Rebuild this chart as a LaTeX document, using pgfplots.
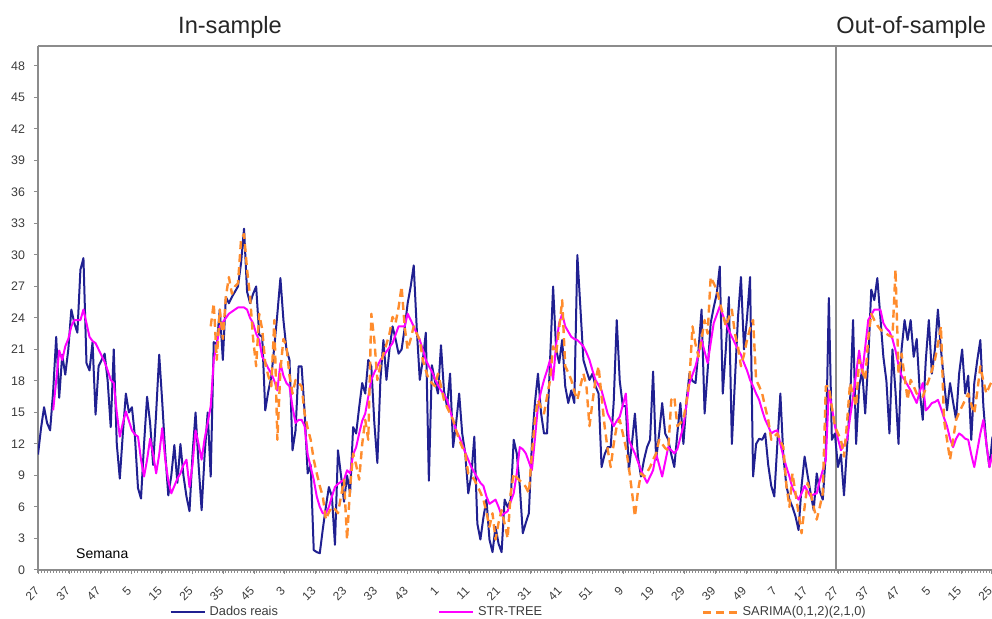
\documentclass[border=0pt]{standalone}
\usepackage{pgfplots}
\pgfplotsset{compat=1.18}
\usepackage{fontspec}
\setmainfont{Liberation Sans}
\definecolor{realblue}{RGB}{32,32,145}
\definecolor{strmag}{RGB}{255,0,255}
\definecolor{sarorange}{RGB}{255,140,45}
\definecolor{axgray}{RGB}{140,140,140}
\definecolor{txtgray}{RGB}{60,60,60}
\begin{document}
\begin{tikzpicture}
\useasboundingbox (-19pt,-24.5pt) rectangle (477pt,285pt);
\begin{axis}[
  at={(0,0)}, anchor=south west,
  scale only axis, width=477pt, height=262pt,
  xmin=0, xmax=314.85, ymin=0, ymax=49.9,
  axis x line*=bottom, axis y line*=left,
  axis line style={axgray, line width=0.9pt},
  /pgf/number format/assume math mode=true,
  ytick={0,3,...,48},
  yticklabel style={font=\fontsize{6.2}{7}\selectfont, text=txtgray, xshift=-1pt},
  xtick={0.33,10.48,20.62,30.77,40.91,51.06,61.2,71.35,81.49,91.64,101.78,111.93,122.07,132.22,142.36,152.51,162.65,172.8,182.94,193.09,203.23,213.38,223.52,233.67,243.81,253.96,264.1,274.25,284.39,294.54,304.68,314.83},
  xticklabels={27,37,47,5,15,25,35,45,3,13,23,33,43,1,11,21,31,41,51,9,19,29,39,49,7,17,27,37,47,5,15,25},
  xticklabel style={font=\fontsize{6}{7}\selectfont, text=txtgray, rotate=45, anchor=north east, xshift=-2.5pt, yshift=1pt},
  minor xtick={0,1,...,315},
  tick style={axgray, line width=0.5pt},
  major tick length=2pt, minor tick length=1.5pt,
  xtick pos=bottom, ytick pos=left,
  tick align=outside,
  clip=true,
  legend columns=3,
  legend style={draw=none, fill=none, font=\fontsize{6.4}{7}\selectfont, text=txtgray,
    at={(0.1375,-0.081)}, anchor=west, inner sep=0pt,
    /tikz/every even column/.append style={column sep=78pt}},
  legend cell align=left,
]
\draw[axgray, line width=0.9pt] (axis cs:0,49.9) -- (axis cs:314.85,49.9);
\draw[axgray, line width=0.8pt] (axis cs:263.4,0) -- (axis cs:263.4,49.9);
\addplot[realblue, line width=1pt, line join=round] coordinates {
(0,11) (1,13.5) (2,15.5) (3,14) (4,13.3) (5,17) (6,22.2) (7,16.4) (8,20.5) (9,18.6)
(10,21) (11,24.8) (12,23.5) (13,22.6) (14,28.6) (15,29.7) (16,19.7) (17,19) (18,21.7) (19,14.8)
(20,19.4) (21,20) (22,20.6) (23,18) (24,13.6) (25,21) (26,12) (27,8.7) (28,13) (29,16.8)
(30,15) (31,15.5) (32,12.7) (33,7.8) (34,6.8) (35,12) (36,16.5) (37,14) (38,10) (39,15)
(40,20.5) (41,16) (42,11.1) (43,7.1) (44,9) (45,11.9) (46,8.3) (47,12) (48,9) (49,7)
(50,5.6) (51,11) (52,15) (53,10) (54,5.7) (55,11) (56,15) (57,8.9) (58,21.7) (59,21.5)
(60,24.8) (61,20) (62,26) (63,25.4) (64,26) (65,26.5) (66,27) (67,29.2) (68,32.5) (69,26.5)
(70,25.4) (71,26.3) (72,27) (73,22.4) (74,22.2) (75,15.2) (76,17) (77,18.4) (78,21.3) (79,24.4)
(80,27.8) (81,23.8) (82,21) (83,20) (84,11.4) (85,13.3) (86,19.4) (87,19.4) (88,15) (89,9.2)
(90,10) (91,1.9) (92,1.7) (93,1.6) (94,3.9) (95,6) (96,7.9) (97,7) (98,2.4) (99,11.4)
(100,9) (101,6.5) (102,9) (103,7.3) (104,13.6) (105,13) (106,15.5) (107,17.8) (108,16.8) (109,20)
(110,19.4) (111,14) (112,10.2) (113,18.1) (114,21.9) (115,18.1) (116,21) (117,23.2) (118,22) (119,20.6)
(120,21) (121,23) (122,25.4) (123,27) (124,29) (125,23) (126,18.1) (127,20) (128,22.6) (129,8.5)
(130,19.5) (131,18) (132,16.8) (133,21.4) (134,17) (135,15.6) (136,18.7) (137,11.7) (138,14) (139,16.8)
(140,13) (141,11.1) (142,7.3) (143,9) (144,12.7) (145,4.4) (146,2.9) (147,5) (148,6.7) (149,2.9)
(150,1.7) (151,4.1) (152,2.5) (153,1.7) (154,6.7) (155,6) (156,6.7) (157,12.4) (158,11.1) (159,8)
(160,3.5) (161,4.5) (162,5.4) (163,12) (164,15.9) (165,18.7) (166,15) (167,13) (168,13) (169,20)
(170,27) (171,21) (172,19.7) (173,21.9) (174,17.5) (175,15.9) (176,17.1) (177,15.9) (178,30) (179,25)
(180,20) (181,19) (182,18.1) (183,18.7) (184,17.5) (185,16.8) (186,9.8) (187,11) (188,11.7) (189,11.7)
(190,16) (191,23.8) (192,18) (193,15.6) (194,15.6) (195,9.5) (196,12) (197,14.9) (198,10.8) (199,8.9)
(200,10.5) (201,11.7) (202,12.4) (203,18.9) (204,10.5) (205,13) (206,15.9) (207,13) (208,12.4) (209,11)
(210,9.8) (211,13) (212,15.9) (213,12) (214,16) (215,18.7) (216,18) (217,17.8) (218,21) (219,24.8)
(220,14.9) (221,19) (222,23.5) (223,25) (224,26.3) (225,28.9) (226,16.8) (227,21) (228,26) (229,12)
(230,18) (231,24) (232,27.9) (233,21) (234,24) (235,27.9) (236,8.9) (237,12) (238,12.5) (239,12.4)
(240,13) (241,10) (242,8) (243,7) (244,12) (245,16.8) (246,10.8) (247,8) (248,6.7) (249,6)
(250,5.1) (251,3.8) (252,8) (253,10.8) (254,9) (255,7.3) (256,5.7) (257,9.2) (258,7.5) (259,6.7)
(260,11.1) (261,25.9) (262,12.4) (263,13) (264,9.8) (265,11) (266,7.1) (267,11.7) (268,16) (269,23.8)
(270,12) (271,17.5) (272,19) (273,14.9) (274,20) (275,26.7) (276,25.7) (277,27.8) (278,24.1) (279,20.3)
(280,18) (281,13) (282,21) (283,17) (284,12) (285,21) (286,23.8) (287,21.9) (288,23.8) (289,20.3)
(290,22) (291,17) (292,14.3) (293,20) (294,23.8) (295,18.7) (296,21) (297,24.8) (298,21) (299,18)
(300,15.2) (301,17.8) (302,16) (303,14.3) (304,18.7) (305,21) (306,16.8) (307,18.5) (308,12.4) (309,17.8)
(310,20) (311,21.9) (312,15.6) (313,12) (314,9.8) (315,12.7)
};
\addlegendentry{Dados reais}
\addplot[strmag, line width=1pt, line join=round] coordinates {
(5,15.2) (6,18) (7,20.9) (8,20) (9,21.3) (10,22) (11,23.2) (12,23.8) (13,23.8) (14,23.8)
(15,24.8) (16,23.5) (17,22.2) (18,21.8) (19,21.6) (20,21) (21,20.4) (22,19.8) (23,19) (24,18.1)
(25,17.8) (26,15) (27,12.7) (28,14) (29,15.1) (30,14.2) (31,13.3) (32,12.9) (33,12.7) (34,10.5)
(35,8.9) (36,10.5) (37,12.5) (38,11) (39,9.2) (40,11) (41,13.5) (42,10.5) (43,8.5) (44,7.3)
(45,8) (46,8.7) (47,9.2) (48,10) (49,10.5) (50,7.9) (51,10) (52,13.3) (53,12) (54,10.5)
(55,12.5) (56,14) (57,15.6) (58,20) (59,21.5) (60,23.2) (61,23.6) (62,24) (63,24.4) (64,24.6)
(65,24.8) (66,25) (67,25) (68,25) (69,24.8) (70,24) (71,23.5) (72,22.5) (73,21.9) (74,20.3)
(75,19.8) (76,19.2) (77,18.7) (78,18) (79,17.1) (80,19.7) (81,18.5) (82,17.8) (83,17.5) (84,15.5)
(85,14) (86,14.3) (87,14.3) (88,13.7) (89,11) (90,9.8) (91,8.6) (92,7) (93,6) (94,5.4)
(95,5.4) (96,6) (97,7) (98,7.9) (99,8.2) (100,8.4) (101,8.6) (102,9.5) (103,9.2) (104,11)
(105,11.7) (106,13) (107,14.2) (108,14.9) (109,16.5) (110,18.1) (111,18.8) (112,19.4) (113,20) (114,20.4)
(115,20.8) (116,21.2) (117,21.6) (118,22.4) (119,23.2) (120,23.2) (121,23.2) (122,24.4) (123,23.8) (124,23.2)
(125,22.5) (126,21.9) (127,21) (128,20) (129,19.4) (130,18.9) (131,18.2) (132,17.6) (133,17.1) (134,16.7)
(135,16.2) (136,15.2) (137,14.2) (138,13.3) (139,12.7) (140,12) (141,11.2) (142,10.5) (143,9.8) (144,9.3)
(145,8.8) (146,8.3) (147,8) (148,7) (149,6.3) (150,6.5) (151,6.7) (152,6) (153,5.2) (154,5.4)
(155,5.6) (156,6.5) (157,7.3) (158,9.2) (159,11.7) (160,11.5) (161,11.1) (162,10.3) (163,9.5) (164,12.5)
(165,15.6) (166,17) (167,18.1) (168,19) (169,20) (170,18.1) (171,21.5) (172,23.5) (173,24.4) (174,23.2)
(175,22.7) (176,22.2) (177,22) (178,21.9) (179,21.6) (180,21.3) (181,20.7) (182,20) (183,19) (184,18.1)
(185,17.6) (186,17.1) (187,16) (188,14.9) (189,14.3) (190,13.7) (191,14.2) (192,14.6) (193,15.7) (194,16.8)
(195,12.4) (196,11.7) (197,11.1) (198,10.3) (199,9.5) (200,8.9) (201,8.3) (202,8.9) (203,9.5) (204,11.1)
(205,10) (206,8.9) (207,10.3) (208,11.7) (209,11.4) (210,11.1) (211,11.5) (212,12.6) (213,13.7) (214,15.7)
(215,17.8) (216,18.6) (217,19.4) (218,20.6) (219,21.9) (220,20.8) (221,19.7) (222,21.6) (223,23.5) (224,24.3)
(225,25.1) (226,24.3) (227,23.5) (228,22.8) (229,22.2) (230,21.6) (231,21) (232,20.5) (233,19.7) (234,19)
(235,18.1) (236,17.5) (237,16.8) (238,16.2) (239,15.2) (240,14.3) (241,13.7) (242,13) (243,13.2) (244,13.3)
(245,12) (246,10.8) (247,9.8) (248,8.9) (249,7.8) (250,7.2) (251,6.7) (252,7.3) (253,8) (254,7.5)
(255,7) (256,7.2) (257,7.3) (258,8.5) (259,9.5) (260,10.5) (261,17.1) (262,15.5) (263,13.7) (264,12.5)
(265,11.4) (266,11.9) (267,12.4) (268,14.5) (269,16.5) (270,18.7) (271,20.9) (272,18.7) (273,21.2) (274,23.8)
(275,24.3) (276,24.8) (277,24.8) (278,24.8) (279,23.5) (280,23) (281,22.7) (282,22) (283,20.9) (284,19.5)
(285,18.5) (286,18.1) (287,17.6) (288,17.1) (289,16.5) (290,15.9) (291,17) (292,17.8) (293,15.2) (294,15.5)
(295,15.9) (296,16) (297,16.2) (298,15.4) (299,14.5) (300,13.7) (301,12.5) (302,11.7) (303,12.5) (304,13)
(305,12.8) (306,12.5) (307,12.4) (308,11) (309,9.8) (310,11.4) (311,13) (312,14.3) (313,12) (314,9.8)
(315,11)
};
\addlegendentry{STR-TREE}
\addplot[sarorange, line width=1.2pt, dash pattern=on 4pt off 2.5pt, line join=round] coordinates {
(57,23.2) (58,25.4) (59,20) (60,24.8) (61,22) (62,26) (63,27.9) (64,26.3) (65,27) (66,27.3)
(67,31.4) (68,32) (69,28.6) (70,26) (71,22) (72,19.4) (73,24.4) (74,22.9) (75,19.7) (76,18.5)
(77,17.5) (78,23.8) (79,12.4) (80,19) (81,22) (82,21.3) (83,18.5) (84,16.8) (85,18.1) (86,17.8)
(87,17.5) (88,14.9) (89,13.5) (90,12.4) (91,10.5) (92,9.2) (93,8) (94,7) (95,4.8) (96,5.5)
(97,6) (98,5.8) (99,5.4) (100,7) (101,8.6) (102,2.9) (103,7.9) (104,11.1) (105,10) (106,8.6)
(107,12) (108,14.3) (109,12.4) (110,24.4) (111,21.9) (112,18.1) (113,19.5) (114,20.6) (115,21.5) (116,22.5)
(117,24.1) (118,23.5) (119,25) (120,27) (121,23.2) (122,21) (123,22) (124,23.2) (125,22.5) (126,21.9)
(127,20) (128,19) (129,18.1) (130,17.8) (131,17.5) (132,18.7) (133,17.5) (134,16.2) (135,15.5) (136,14.9)
(137,14.3) (138,13.3) (139,12.4) (140,11.7) (141,11.1) (142,9.2) (143,9) (144,8.6) (145,8) (146,7.4)
(147,6.7) (148,5.5) (149,4.1) (150,5.4) (151,2.9) (152,4.5) (153,5.7) (154,4.4) (155,3) (156,7.3)
(157,9.2) (158,8.8) (159,8.5) (160,8.3) (161,7.9) (162,7.3) (163,11.1) (164,14.3) (165,16.2) (166,15.5)
(167,14.9) (168,16.5) (169,18.1) (170,21.3) (171,20.6) (172,23) (173,25.7) (174,19.4) (175,18.8) (176,18.1)
(177,17) (178,16.2) (179,17.5) (180,18.7) (181,17.5) (182,13.7) (183,16) (184,18.1) (185,19.4) (186,16.5)
(187,13.7) (188,11.5) (189,9.8) (190,12) (191,13.7) (192,14.3) (193,13) (194,11.7) (195,9.8) (196,7.5)
(197,5.1) (198,7.5) (199,9.2) (200,8.9) (201,9.3) (202,9.8) (203,10.5) (204,11.1) (205,12.4) (206,12)
(207,11.6) (208,11.4) (209,16.2) (210,16.5) (211,13.7) (212,14) (213,14.3) (214,16) (215,18.1) (216,23.2)
(217,21.5) (218,20.3) (219,22) (220,23.8) (221,22.5) (222,27.9) (223,27.3) (224,26.7) (225,25.5) (226,24.4)
(227,23.2) (228,24) (229,24.8) (230,22.5) (231,21.3) (232,19.4) (233,20.5) (234,21.9) (235,23) (236,23.8)
(237,18.1) (238,17.5) (239,16.8) (240,15.5) (241,14.3) (242,12.4) (243,12.7) (244,13) (245,12.3) (246,11.7)
(247,8) (248,6) (249,9.2) (250,7.3) (251,5.4) (252,3.5) (253,6) (254,8.3) (255,7.3) (256,6)
(257,4.8) (258,6) (259,7.3) (260,17.5) (261,17.5) (262,15.5) (263,13.7) (264,13) (265,12.4) (266,10.8)
(267,14) (268,17.8) (269,16.7) (270,15.6) (271,20) (272,19) (273,18.1) (274,22) (275,24.4) (276,23.8)
(277,23.3) (278,22.9) (279,22.7) (280,22.5) (281,22.3) (282,22.2) (283,28.6) (284,18.7) (285,20.6) (286,18.4)
(287,16.2) (288,18.1) (289,17.5) (290,16.8) (291,16.6) (292,16.5) (293,17.3) (294,18.1) (295,19) (296,20)
(297,21.5) (298,23.2) (299,14.3) (300,12.4) (301,10.5) (302,12.4) (303,14.3) (304,15) (305,15.6) (306,16.2)
(307,16.8) (308,15.8) (309,14.9) (310,17) (311,19.4) (312,18) (313,16.8) (314,17.5) (315,18.1)
};
\addlegendentry{SARIMA(0,1,2)(2,1,0)}
\node[font=\fontsize{7}{8}\selectfont, text=black] at (axis cs:21.2,1.6) {Semana};
\end{axis}
\node[font=\fontsize{11.8}{13}\selectfont, text=black!85] at (96pt,271.5pt) {In-sample};
\node[font=\fontsize{11.8}{13}\selectfont, text=black!85, anchor=west, inner sep=0pt] at (399pt,271.5pt) {Out-of-sample};
\end{tikzpicture}
\end{document}
